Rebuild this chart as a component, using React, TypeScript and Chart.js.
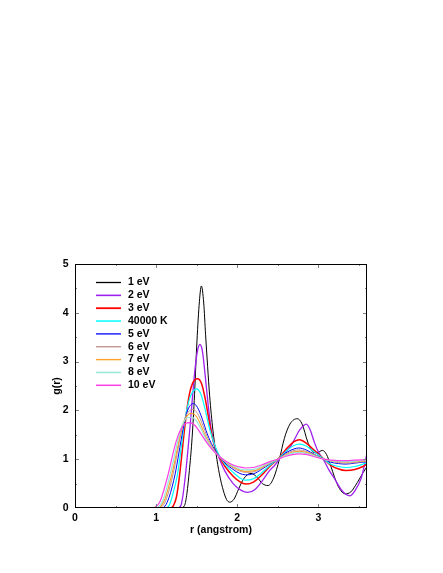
import React, { useEffect, useRef } from "react";
import { Chart, registerables } from "chart.js";

Chart.register(...registerables);

const FONT = "'Liberation Sans', Arial, sans-serif";

const seriesLabels = ["1 eV", "2 eV", "3 eV", "40000 K", "5 eV", "6 eV", "7 eV", "8 eV", "10 eV"];
const seriesColors = ["#000000", "#a020f0", "#ff0000", "#00ffff", "#0000ff", "#bc8f8f", "#ffa02a", "#98e6da", "#ff3ce6"];
const seriesWidths = [1, 1.3, 1.5, 1.2, 1, 1, 1.1, 1.2, 1.2];

const r1 = [0, 1.30, 1.35, 1.38, 1.41, 1.44, 1.47, 1.50, 1.53, 1.558, 1.587, 1.61, 1.635, 1.66, 1.70, 1.74, 1.78, 1.83, 1.87, 1.907, 1.96, 2.02, 2.08, 2.17, 2.25, 2.31, 2.38, 2.45, 2.52, 2.58, 2.65, 2.74, 2.80, 2.87, 2.93, 2.98, 3.05, 3.10, 3.15, 3.20, 3.26, 3.33, 3.40, 3.48, 3.55, 3.60];
const g1 = [0, 0, 0.05, 0.3, 0.77, 1.35, 2.2, 3.3, 4.15, 4.55, 4.2, 3.55, 2.9, 2.3, 1.6, 1.1, 0.7, 0.35, 0.17, 0.12, 0.18, 0.4, 0.6, 0.71, 0.62, 0.5, 0.46, 0.62, 1.0, 1.42, 1.72, 1.83, 1.72, 1.35, 1.15, 1.13, 1.18, 1.1, 0.88, 0.63, 0.4, 0.29, 0.33, 0.52, 0.72, 0.85];

const r2 = [0, 1.25, 1.30, 1.33, 1.36, 1.39, 1.42, 1.45, 1.48, 1.51, 1.54, 1.57, 1.60, 1.64, 1.68, 1.72, 1.77, 1.85, 1.95, 2.05, 2.13, 2.22, 2.32, 2.40, 2.46, 2.52, 2.58, 2.665, 2.72, 2.77, 2.85, 2.90, 2.95, 3.00, 3.07, 3.13, 3.20, 3.28, 3.34, 3.39, 3.45, 3.53, 3.60];
const g2 = [0, 0, 0.03, 0.25, 0.65, 1.15, 1.7, 2.3, 2.85, 3.22, 3.35, 3.22, 2.8, 2.14, 1.6, 1.28, 1.05, 0.75, 0.5, 0.36, 0.32, 0.38, 0.58, 0.77, 0.87, 1.0, 1.12, 1.28, 1.45, 1.6, 1.72, 1.6, 1.35, 1.15, 0.97, 0.78, 0.6, 0.38, 0.28, 0.25, 0.35, 0.62, 1.12];

const r3 = [0, 1.17, 1.21, 1.25, 1.29, 1.33, 1.37, 1.41, 1.45, 1.51, 1.56, 1.61, 1.66, 1.71, 1.77, 1.85, 1.95, 2.03, 2.11, 2.20, 2.30, 2.40, 2.50, 2.60, 2.70, 2.77, 2.85, 2.95, 3.07, 3.15, 3.25, 3.34, 3.45, 3.55, 3.60];
const g3 = [0, 0, 0.04, 0.22, 0.68, 1.3, 1.9, 2.33, 2.56, 2.65, 2.55, 2.2, 1.72, 1.33, 1.08, 0.85, 0.65, 0.54, 0.49, 0.53, 0.67, 0.85, 1.0, 1.2, 1.36, 1.40, 1.33, 1.18, 1.0, 0.88, 0.8, 0.77, 0.79, 0.85, 0.9];

const r4 = [0, 1.12, 1.16, 1.20, 1.265, 1.31, 1.35, 1.40, 1.45, 1.50, 1.55, 1.60, 1.66, 1.72, 1.77, 1.85, 1.95, 2.03, 2.10, 2.20, 2.30, 2.40, 2.50, 2.60, 2.70, 2.77, 2.85, 2.95, 3.07, 3.15, 3.25, 3.34, 3.45, 3.55, 3.60];
const g4 = [0, 0, 0.05, 0.25, 0.7, 1.25, 1.75, 2.17, 2.38, 2.44, 2.34, 2.05, 1.62, 1.3, 1.1, 0.9, 0.73, 0.62, 0.57, 0.6, 0.72, 0.87, 1.0, 1.16, 1.28, 1.31, 1.27, 1.15, 1.0, 0.9, 0.85, 0.83, 0.85, 0.9, 0.93];

const r5 = [0, 1.07, 1.11, 1.16, 1.235, 1.28, 1.33, 1.38, 1.42, 1.46, 1.51, 1.57, 1.63, 1.70, 1.77, 1.85, 1.95, 2.03, 2.10, 2.20, 2.30, 2.40, 2.50, 2.60, 2.70, 2.76, 2.85, 2.95, 3.07, 3.15, 3.25, 3.34, 3.45, 3.55, 3.60];
const g5 = [0, 0, 0.04, 0.22, 0.7, 1.12, 1.6, 1.96, 2.1, 2.14, 2.06, 1.82, 1.52, 1.26, 1.08, 0.92, 0.79, 0.71, 0.68, 0.7, 0.79, 0.9, 1.0, 1.13, 1.21, 1.23, 1.19, 1.1, 1.0, 0.94, 0.91, 0.9, 0.92, 0.94, 0.95];

const r6 = [0, 1.04, 1.08, 1.13, 1.21, 1.26, 1.31, 1.36, 1.41, 1.455, 1.51, 1.57, 1.63, 1.70, 1.77, 1.85, 1.95, 2.03, 2.10, 2.20, 2.30, 2.40, 2.50, 2.60, 2.70, 2.76, 2.85, 2.95, 3.07, 3.15, 3.25, 3.34, 3.45, 3.60];
const g6 = [0, 0, 0.04, 0.2, 0.7, 1.12, 1.55, 1.86, 1.99, 2.02, 1.94, 1.72, 1.46, 1.23, 1.07, 0.94, 0.82, 0.76, 0.73, 0.74, 0.81, 0.91, 1.0, 1.11, 1.18, 1.19, 1.16, 1.09, 1.0, 0.96, 0.93, 0.92, 0.93, 0.96];

const r7 = [0, 1.02, 1.06, 1.11, 1.195, 1.25, 1.30, 1.35, 1.40, 1.44, 1.50, 1.56, 1.62, 1.70, 1.77, 1.85, 1.95, 2.03, 2.10, 2.20, 2.30, 2.40, 2.50, 2.60, 2.70, 2.76, 2.85, 2.95, 3.07, 3.15, 3.25, 3.34, 3.45, 3.60];
const g7 = [0, 0, 0.04, 0.19, 0.7, 1.12, 1.52, 1.8, 1.92, 1.94, 1.87, 1.67, 1.43, 1.2, 1.07, 0.95, 0.84, 0.78, 0.75, 0.76, 0.83, 0.92, 1.0, 1.09, 1.15, 1.16, 1.14, 1.08, 1.0, 0.97, 0.95, 0.94, 0.95, 0.97];

const r8 = [0, 1.00, 1.04, 1.09, 1.175, 1.23, 1.28, 1.33, 1.38, 1.43, 1.49, 1.55, 1.62, 1.70, 1.77, 1.85, 1.95, 2.03, 2.10, 2.20, 2.30, 2.40, 2.50, 2.60, 2.70, 2.76, 2.85, 2.95, 3.07, 3.15, 3.25, 3.34, 3.45, 3.60];
const g8 = [0, 0, 0.04, 0.18, 0.7, 1.1, 1.46, 1.73, 1.85, 1.86, 1.8, 1.63, 1.4, 1.19, 1.07, 0.96, 0.86, 0.8, 0.78, 0.79, 0.85, 0.93, 1.0, 1.08, 1.13, 1.14, 1.12, 1.07, 1.0, 0.97, 0.96, 0.95, 0.96, 0.98];

const r9 = [0, 0.96, 1.00, 1.05, 1.15, 1.20, 1.25, 1.30, 1.36, 1.42, 1.48, 1.55, 1.62, 1.70, 1.77, 1.85, 1.95, 2.03, 2.10, 2.20, 2.30, 2.40, 2.50, 2.60, 2.70, 2.76, 2.85, 2.95, 3.07, 3.15, 3.25, 3.34, 3.45, 3.60];
const g9 = [0, 0, 0.03, 0.14, 0.7, 1.06, 1.38, 1.6, 1.73, 1.75, 1.69, 1.53, 1.35, 1.18, 1.07, 0.97, 0.88, 0.84, 0.82, 0.83, 0.88, 0.95, 1.0, 1.06, 1.1, 1.11, 1.1, 1.05, 1.0, 0.98, 0.97, 0.97, 0.98, 0.99];

const seriesR = [r1, r2, r3, r4, r5, r6, r7, r8, r9];
const seriesG = [g1, g2, g3, g4, g5, g6, g7, g8, g9];

const xTickMarks = [0.5, 1, 1.5, 2, 2.5, 3, 3.5];
const yTickMarks = [0.5, 1, 1.5, 2, 2.5, 3, 3.5, 4, 4.5];

const framePlugin = {
  id: "gnuframe",
  afterDatasetsDraw(chart: any) {
    const { ctx, chartArea: a, scales } = chart;
    const x = scales.x;
    const y = scales.y;
    ctx.save();
    ctx.lineWidth = 1;
    ctx.strokeStyle = "#808080";
    ctx.beginPath();
    for (const v of xTickMarks) {
      const px = Math.round(x.getPixelForValue(v)) + 0.5;
      const len = Number.isInteger(v) ? 4 : 2;
      ctx.moveTo(px, a.bottom);
      ctx.lineTo(px, a.bottom - len);
      ctx.moveTo(px, a.top);
      ctx.lineTo(px, a.top + len);
    }
    for (const v of yTickMarks) {
      const py = Math.round(y.getPixelForValue(v)) + 0.5;
      const len = Number.isInteger(v) ? 4 : 2;
      ctx.moveTo(a.left, py);
      ctx.lineTo(a.left + len, py);
      ctx.moveTo(a.right, py);
      ctx.lineTo(a.right - len, py);
    }
    ctx.stroke();
    ctx.strokeStyle = "#000000";
    ctx.strokeRect(a.left + 0.5, a.top + 0.5, a.right - a.left - 1, a.bottom - a.top - 1);
    ctx.restore();
  },
  afterDraw(chart: any) {
    const { ctx } = chart;
    ctx.save();
    ctx.font = "bold 10.5px " + FONT;
    ctx.textBaseline = "middle";
    ctx.textAlign = "left";
    seriesLabels.forEach((lab, i) => {
      const yy = 282.5 + i * 12.85;
      ctx.strokeStyle = seriesColors[i];
      ctx.lineWidth = seriesWidths[i] + 0.3;
      ctx.beginPath();
      ctx.moveTo(96, yy);
      ctx.lineTo(121, yy);
      ctx.stroke();
      ctx.fillStyle = "#000000";
      ctx.fillText(lab, 128, yy);
    });
    ctx.restore();
  },
};

export default function App() {
  const ref = useRef<HTMLCanvasElement | null>(null);
  useEffect(() => {
    if (!ref.current) return;
    const datasets = seriesLabels.map((lab, i) => ({
      label: lab,
      data: seriesR[i].map((r, k) => ({ x: r, y: seriesG[i][k] })),
      borderColor: seriesColors[i],
      backgroundColor: seriesColors[i],
      borderWidth: seriesWidths[i],
      pointRadius: 0,
      fill: false,
      cubicInterpolationMode: "monotone" as const,
      order: seriesLabels.length - i,
    }));
    const chart = new Chart(ref.current, {
      type: "line",
      data: { datasets },
      plugins: [framePlugin],
      options: {
        animation: false,
        responsive: false,
        devicePixelRatio: 1,
        layout: { padding: { left: 40, right: 76, top: 264, bottom: 30 } },
        plugins: { legend: { display: false }, tooltip: { enabled: false }, title: { display: false } },
        scales: {
          x: {
            type: "linear",
            min: 0,
            max: 3.6,
            grid: { display: false, drawTicks: false },
            border: { display: false },
            ticks: { stepSize: 1, padding: 4, color: "#000", font: { family: FONT, size: 10.5, weight: "bold" } },
            afterBuildTicks: (s: any) => {
              s.ticks = s.ticks.filter((t: any) => Number.isInteger(t.value));
            },
            afterFit: (s: any) => {
              s.height = 35;
            },
            title: {
              display: true,
              text: "r (angstrom)",
              color: "#000",
              font: { family: FONT, size: 10.5, weight: "bold" },
              padding: { top: 0, bottom: 7 },
            },
          },
          y: {
            type: "linear",
            min: 0,
            max: 5,
            grid: { display: false, drawTicks: false },
            border: { display: false },
            ticks: { stepSize: 1, padding: 6.5, color: "#000", font: { family: FONT, size: 10.5, weight: "bold" } },
            afterFit: (s: any) => {
              s.width = 35;
            },
            title: {
              display: true,
              text: "g(r)",
              color: "#000",
              font: { family: FONT, size: 10.5, weight: "bold" },
              padding: { top: 10.5, bottom: 0 },
            },
          },
        },
      },
    });
    return () => chart.destroy();
  }, []);
  return (
    <div style={{ position: "absolute", left: 0, top: 0, width: 443, height: 573, background: "#fff" }}>
      <canvas ref={ref} width={443} height={573} style={{ display: "block", width: 443, height: 573 }} />
    </div>
  );
}
